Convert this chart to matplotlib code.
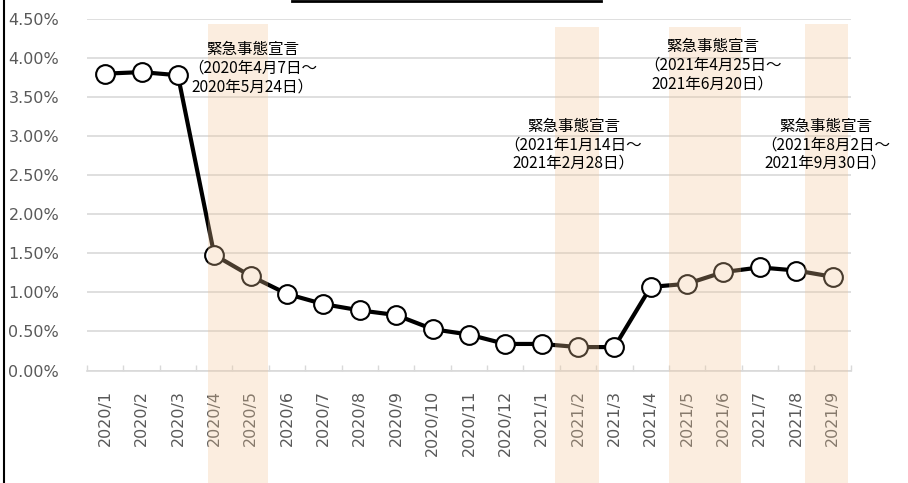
import matplotlib.pyplot as plt
from matplotlib.patches import Rectangle
from matplotlib.lines import Line2D
from matplotlib.transforms import blended_transform_factory

months = ["2020/1", "2020/2", "2020/3", "2020/4", "2020/5", "2020/6", "2020/7",
          "2020/8", "2020/9", "2020/10", "2020/11", "2020/12", "2021/1", "2021/2",
          "2021/3", "2021/4", "2021/5", "2021/6", "2021/7", "2021/8", "2021/9"]
rates = [3.80, 3.82, 3.78, 1.48, 1.21, 0.98, 0.85, 0.77, 0.71, 0.53, 0.46,
         0.34, 0.34, 0.30, 0.30, 1.07, 1.11, 1.26, 1.32, 1.28, 1.20]

# state of emergency periods, as positions on the month axis
band_start = [2.84, 12.38, 15.50, 19.25]
band_end = [4.49, 13.57, 17.49, 20.43]
notes = ["緊急事態宣言\n（2020年4月7日～\n2020年5月24日）",
         "緊急事態宣言\n（2021年1月14日～\n2021年2月28日）",
         "緊急事態宣言\n（2021年4月25日～\n2021年6月20日）",
         "緊急事態宣言\n（2021年8月2日～\n2021年9月30日）"]
note_x = [4.06, 12.87, 16.70, 19.80]
note_y = [3.87, 2.89, 3.91, 2.89]

fig = plt.figure(figsize=(9.08, 4.83), dpi=100)
ax = fig.add_axes([0.0958, 0.2329, 0.8412, 0.7278])

x = list(range(len(months)))
ax.plot(x, rates, color="black", lw=3, marker="o", ms=13.5,
        mfc="white", mec="black", mew=1.5, zorder=3)

ax.set_xlim(-0.5, len(months) - 0.5)
ax.set_ylim(0, 4.5)
ax.set_yticks([i * 0.5 for i in range(10)])
ax.set_yticklabels([f"{i * 0.5:.2f}%" for i in range(10)])
ax.set_xticks(x)
ax.set_xticklabels(months, rotation=90)
ax.set_xticks([i - 0.5 for i in range(len(months) + 1)], minor=True)

ax.tick_params(axis="y", length=0, pad=20, labelsize=11.5, labelcolor="#595959")
ax.tick_params(axis="x", which="major", length=0, pad=14, labelsize=11.5,
               labelcolor="#595959")
ax.tick_params(axis="x", which="minor", direction="in", length=4,
               width=1, color="#D9D9D9")
ax.grid(axis="y", color="#D9D9D9", lw=1.2, zorder=0)
ax.set_axisbelow(True)
for side in ["top", "right", "left"]:
    ax.spines[side].set_visible(False)
ax.spines["bottom"].set_color("#D9D9D9")
ax.spines["bottom"].set_linewidth(1.2)

trans = blended_transform_factory(ax.transData, fig.transFigure)
tops = [0.950, 0.944, 0.944, 0.950]
for s, e, t in zip(band_start, band_end, tops):
    ax.add_patch(Rectangle((s, 0), e - s, t, transform=trans, color=(0.95, 0.776, 0.596),
                           alpha=0.3, lw=0, clip_on=False, zorder=4))

for txt, tx, ty in zip(notes, note_x, note_y):
    ax.text(tx, ty, txt, ha="center", va="center", multialignment="center",
            fontsize=11.2, family=["Noto Sans CJK JP", "DejaVu Sans"],
            linespacing=1.12, zorder=5)

# frame pieces of the surrounding sheet
fig.add_artist(Line2D([0.0039, 0.0039], [0, 1], color="black", lw=1.5))
fig.add_artist(Line2D([0.3216, 0.662], [0.998, 0.998], color="black", lw=2))

fig.savefig("out.png", dpi=100)
